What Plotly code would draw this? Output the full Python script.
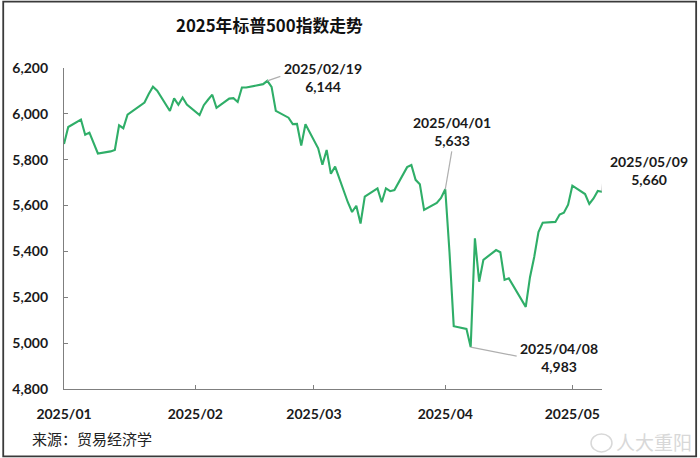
import plotly.graph_objects as go

# ---- data: S&P 500 daily closes, 2025-01-02 .. 2025-05-09 ----
dates = [
    "2025-01-02", "2025-01-03", "2025-01-06", "2025-01-07", "2025-01-08", "2025-01-10",
    "2025-01-13", "2025-01-14", "2025-01-15", "2025-01-16", "2025-01-17", "2025-01-21",
    "2025-01-22", "2025-01-23", "2025-01-24", "2025-01-27", "2025-01-28", "2025-01-29",
    "2025-01-30", "2025-01-31", "2025-02-03", "2025-02-04", "2025-02-05", "2025-02-06",
    "2025-02-07", "2025-02-10", "2025-02-11", "2025-02-12", "2025-02-13", "2025-02-14",
    "2025-02-18", "2025-02-19", "2025-02-20", "2025-02-21", "2025-02-24", "2025-02-25",
    "2025-02-26", "2025-02-27", "2025-02-28", "2025-03-03", "2025-03-04", "2025-03-05",
    "2025-03-06", "2025-03-07", "2025-03-10", "2025-03-11", "2025-03-12", "2025-03-13",
    "2025-03-14", "2025-03-17", "2025-03-18", "2025-03-19", "2025-03-20", "2025-03-21",
    "2025-03-24", "2025-03-25", "2025-03-26", "2025-03-27", "2025-03-28", "2025-03-31",
    "2025-04-01", "2025-04-02", "2025-04-03", "2025-04-04", "2025-04-07", "2025-04-08",
    "2025-04-09", "2025-04-10", "2025-04-11", "2025-04-14", "2025-04-15", "2025-04-16",
    "2025-04-17", "2025-04-21", "2025-04-22", "2025-04-23", "2025-04-24", "2025-04-25",
    "2025-04-28", "2025-04-29", "2025-04-30", "2025-05-01", "2025-05-02", "2025-05-05",
    "2025-05-06", "2025-05-07", "2025-05-08", "2025-05-09",
]
closes = [
    5868.55, 5942.47, 5975.38, 5909.03, 5918.25, 5827.04,
    5836.22, 5842.91, 5949.91, 5937.34, 5996.66, 6049.24,
    6086.37, 6118.71, 6101.24, 6012.28, 6067.70, 6039.31,
    6071.17, 6040.53, 5994.57, 6037.88, 6061.48, 6083.57,
    6025.99, 6066.44, 6068.50, 6051.97, 6115.07, 6114.63,
    6129.58, 6144.15, 6117.52, 6013.13, 5983.25, 5955.25,
    5956.06, 5861.57, 5954.50, 5849.72, 5778.15, 5842.63,
    5738.52, 5770.20, 5614.56, 5572.07, 5599.30, 5521.52,
    5638.94, 5675.12, 5614.66, 5675.29, 5662.89, 5667.56,
    5767.57, 5776.65, 5712.20, 5693.31, 5580.94, 5611.85,
    5633.07, 5670.97, 5396.52, 5074.08, 5062.25, 4982.77,
    5456.90, 5268.05, 5363.36, 5405.97, 5396.63, 5275.70,
    5282.70, 5158.20, 5287.76, 5375.86, 5484.77, 5525.21,
    5528.75, 5560.83, 5569.06, 5604.14, 5686.67, 5650.38,
    5606.91, 5631.28, 5663.94, 5659.91,
]

tick_dates = ["2025-01-02", "2025-02-02", "2025-03-02", "2025-04-02", "2025-05-02"]
tick_labels = ["2025/01", "2025/02", "2025/03", "2025/04", "2025/05"]
y_ticks = [4800, 5000, 5200, 5400, 5600, 5800, 6000, 6200]

# callouts: anchor date on the line, label text
callout_dates = ["2025-02-19", "2025-04-02", "2025-05-09", "2025-04-08"]
callout_labels = ["2025/02/19<br>6,144", "2025/04/01<br>5,633", "2025/05/09<br>5,660", "2025/04/08<br>4,983"]

title_text = "2025年标普500指数走势"
source_text = "来源：贸易经济学"
watermark_text = "人大重阳"

# ---- styling ----
LINE_GREEN = "#2FAE68"
TXT = "#1a1a1a"
FONT = "Lato, Liberation Sans, Noto Sans CJK SC, sans-serif"
L, R, T, B = 62, 98, 67.5, 69
W, H = 700, 458
PW, PH = W - L - R, H - T - B


def px_x(p):
    return (p - L) / PW


def px_y(p):
    return (H - B - p) / PH


fig = go.Figure()
fig.add_trace(go.Scatter(
    x=dates, y=closes, mode="lines",
    line=dict(color=LINE_GREEN, width=2.1),
    hoverinfo="x+y", showlegend=False,
))

value_at = dict(zip(dates, closes))

# offsets (pixels) for the callout texts and leader lines
text_shift = [(56, 3), (7, 58), (47, 21), (88, -10)]
leader_paths = [
    "M0,0 L13,4.5",
    "M0,0 L6.5,38",
    "M0,0 L1.5,22 L5,22",
    "M0,0 L46,-9",
]

shapes = []
annotations = []
for d, lab, (dx, dy), path in zip(callout_dates, callout_labels, text_shift, leader_paths):
    yv = value_at[d]
    shapes.append(dict(
        type="path", xref="x", yref="y", xsizemode="pixel", ysizemode="pixel",
        xanchor=d, yanchor=yv, path=path,
        line=dict(color="#AFAFAF", width=1.2),
    ))
    annotations.append(dict(
        x=d, y=yv, xref="x", yref="y", text=lab, showarrow=False,
        xshift=dx, yshift=dy, xanchor="center", yanchor="middle",
        font=dict(family=FONT, size=14, color=TXT, weight="bold"),
        align="center",
    ))

# title
annotations.append(dict(
    x=px_x(268), y=px_y(24), xref="paper", yref="paper",
    text=title_text, showarrow=False, xanchor="center", yanchor="middle",
    font=dict(family="Noto Sans CJK SC, sans-serif", size=16.8, color="#111111", weight="bold"),
))
# source
annotations.append(dict(
    x=px_x(28), y=px_y(439), xref="paper", yref="paper",
    text=source_text, showarrow=False, xanchor="left", yanchor="middle",
    font=dict(family="Noto Sans CJK SC, serif", size=15, color="#222222"),
))
# watermark
annotations.append(dict(
    x=px_x(694), y=px_y(442), xref="paper", yref="paper",
    text=watermark_text, showarrow=False, xanchor="right", yanchor="middle",
    font=dict(family="Noto Sans CJK SC, sans-serif", size=19, color="#D8D8D8"),
))
# small logo mark next to the watermark
shapes.append(dict(
    type="circle", xref="paper", yref="paper",
    x0=px_x(591), x1=px_x(612), y0=px_y(452), y1=px_y(434),
    line=dict(color="#D8D8D8", width=1.5), fillcolor="rgba(0,0,0,0)",
))

# outer frame around the whole picture
shapes.append(dict(
    type="rect", xref="paper", yref="paper",
    x0=px_x(1), x1=px_x(696.5),
    y0=px_y(456.5), y1=px_y(1),
    line=dict(color="#3a3a3a", width=1.8), fillcolor="rgba(0,0,0,0)", layer="above",
))

fig.update_layout(
    width=W, height=H,
    margin=dict(l=L, r=R, t=T, b=B),
    paper_bgcolor="white", plot_bgcolor="white",
    shapes=shapes, annotations=annotations,
    font=dict(family=FONT, color=TXT),
    showlegend=False,
)
fig.update_xaxes(
    type="date", range=["2025-01-02", "2025-05-09"],
    tickvals=tick_dates, ticktext=tick_labels,
    showgrid=False, zeroline=False,
    showline=True, linecolor="#7F7F7F", linewidth=1.3,
    ticks="inside", ticklen=4, tickcolor="#7F7F7F", tickwidth=1,
    tickfont=dict(family=FONT, size=14, color=TXT, weight="bold"),
    ticklabelstandoff=12,
)
fig.update_yaxes(
    range=[4800, 6200], tickvals=y_ticks, tickformat=",d",
    showgrid=False, zeroline=False,
    showline=True, linecolor="#7F7F7F", linewidth=1.3,
    ticks="inside", ticklen=4, tickcolor="#7F7F7F", tickwidth=1,
    tickfont=dict(family=FONT, size=14, color=TXT, weight="bold"),
    ticklabelstandoff=12,
)

fig.write_html(
    "out.html",
    config={"displayModeBar": False},
    post_script="document.body.style.margin='0';document.body.style.overflow='hidden';",
)
